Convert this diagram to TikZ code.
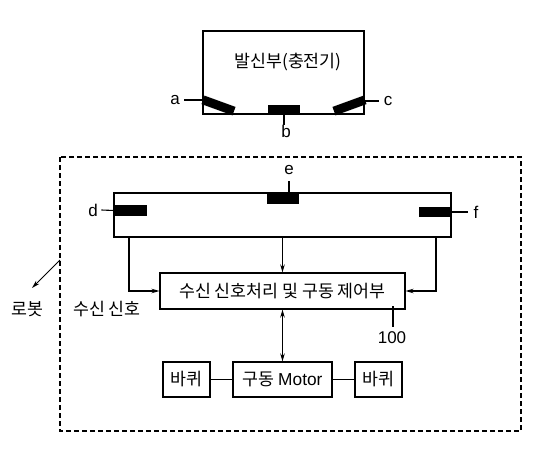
\documentclass[tikz,border=0pt]{standalone}
\usepackage{fontspec}
\setmainfont{Noto Sans CJK KR}
\newfontfamily\latinf{Liberation Sans}
\usetikzlibrary{arrows.meta,calc}
\begin{document}
\begin{tikzpicture}[x=1pt,y=-1pt,line width=1.1pt,
  box/.style={draw,rectangle,inner sep=0pt},
  emit/.style={fill=black,draw=none,rectangle,inner sep=0pt},
  ko/.style={font=\fontsize{17.3}{17.3}\selectfont,inner sep=0pt},
  lt/.style={font=\latinf\fontsize{17}{17}\selectfont,inner sep=0pt},
  arr/.style={-{Stealth[length=8pt,width=4.5pt]}}]
\useasboundingbox (0,0) rectangle (536,452);
% charger
\node[box,minimum width=161pt,minimum height=83pt] (charger) at (283.5,72.5) {};
\node[ko] (chargertxt) at (288,62) {발신부(충전기)};
\node[emit,minimum width=33pt,minimum height=9pt,rotate=-20] (ea) at (218.5,105.5) {};
\node[emit,minimum width=32pt,minimum height=9pt] (eb) at (284,109.5) {};
\node[emit,minimum width=33pt,minimum height=9pt,rotate=20] (ec) at (349.5,105.5) {};
\node[lt] (la) at (175,100) {a};
\node[lt] (lb) at (286,131) {b};
\node[lt] (lc) at (388,101) {c};
\coordinate (pa) at (203,100);
\coordinate (pc) at (364,101);
\draw (la.east) ++(4,0) -- (pa);
\draw (pc) -- ($(lc.west)+(-4,0)$);
\draw (eb.south) -- ++(0,10);
% robot dashed region
\draw[dash pattern=on 5pt off 3pt] (60,157) rectangle (521,431);
% sensor bar
\node[box,minimum width=337pt,minimum height=44pt] (sensor) at (282.5,215) {};
\node[emit,minimum width=32pt,minimum height=11pt,anchor=west] (ed) at (114,210.5) {};
\node[emit,minimum width=32pt,minimum height=10pt,anchor=north] (ee) at (283,193) {};
\node[emit,minimum width=31pt,minimum height=10pt,anchor=east] (ef) at (451,212) {};
\node[lt] (ld) at (93,210) {d};
\node[lt] (le) at (289,170) {e};
\node[lt] (lf) at (476,212) {f};
\draw (ld.east) ++(3,0) -- (ed.west);
\draw (ef.east) -- ++(17,0);
\draw (ee.north) ++(6,0) -- ++(0,-12);
% control
\node[box,minimum width=245pt,minimum height=36pt,ko] (ctrl) at (282.5,291) {수신 신호처리 및 구동 제어부};
\draw[arr] (129,237) |- (ctrl.west);
\draw[arr] (436,237) |- (ctrl.east);
\draw[arr] (sensor.south -| ctrl.north) -- (ctrl.north);
\node[ko] (rx) at (107,309) {수신 신호};
\node[lt] (l100) at (392,338) {100};
\draw (393,306) -- (393,327);
% robot label
\node[ko] (robot) at (27,309) {로봇};
\coordinate (rstart) at (60,260);
\draw[-{Stealth[length=8pt,width=4.5pt]},line width=1pt] (rstart) -- (32,288);
% motor and wheels
\node[box,minimum width=99pt,minimum height=35pt,ko] (motor) at (282.5,379.5) {구동 {\latinf Motor}};
\node[box,minimum width=47pt,minimum height=35pt,ko] (wl) at (186.5,379.5) {바퀴};
\node[box,minimum width=47pt,minimum height=35pt,ko] (wr) at (378.5,379.5) {바퀴};
\draw[{Stealth[length=8pt,width=4.5pt]}-{Stealth[length=8pt,width=4.5pt]}] (ctrl.south) -- (motor.north);
\draw (wl.east) -- (motor.west);
\draw (motor.east) -- (wr.west);
\end{tikzpicture}
\end{document}
